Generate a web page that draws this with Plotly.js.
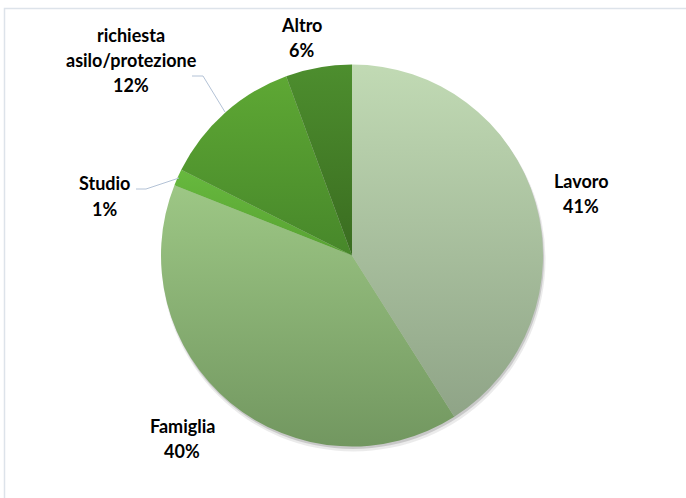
<!DOCTYPE html>
<html>
<head>
<meta charset="utf-8">
<script src="https://cdn.plot.ly/plotly-3.0.1.min.js"></script>
<style>
html,body{margin:0;padding:0;background:#fff;}
#chart{width:686px;height:498px;}
</style>
</head>
<body>
<div id="chart"></div>
<script>
// ---- data ----
const categories = ['Lavoro', 'Famiglia', 'Studio', 'richiesta asilo/protezione', 'Altro'];
const labelLines = [['Lavoro'], ['Famiglia'], ['Studio'], ['richiesta', 'asilo/protezione'], ['Altro']];
const values = [41.0, 40.0, 1.4, 12.0, 5.6];

// ---- styles ----
const colors = ['#abc5a0', '#88b072', '#5fb33a', '#519a2e', '#447f29'];
// per-slice vertical gradients (top, bottom)
const gradients = [
  ['#c1dab4', '#8fa487'],
  ['#9dc785', '#729760'],
  ['#67b93e', '#58a232'],
  ['#5ea834', '#47872a'],
  ['#4d8e2e', '#3a6c20']
];
const W = 686, H = 498;
const cx = 352, cy = 255.5, R = 191;
// label block centres (px)
const labelPos = [[581, 193], [182, 438], [104, 196], [131, 60], [301, 37.5]];
const lineGap = 25;

const px = x => x / W;
const py = y => 1 - y / H;

const total = values.reduce((a, b) => a + b, 0);
const pct = values.map(v => Math.round(v / total * 100) + '%');

function dom(dx, dy, dr) {
  return {
    x: [px(cx + dx - R - dr), px(cx + dx + R + dr)],
    y: [py(cy + dy + R + dr), py(cy + dy - R - dr)]
  };
}

const shadow1 = {
  type: 'pie', values: [1], labels: ['s'], domain: dom(1.5, 4, 1),
  marker: {colors: ['rgba(0,0,0,0.08)'], line: {width: 0}},
  textinfo: 'none', hoverinfo: 'skip', showlegend: false, sort: false
};
const shadow2 = {
  type: 'pie', values: [1], labels: ['s2'], domain: dom(1, 2.5, 0),
  marker: {colors: ['rgba(0,0,0,0.14)'], line: {width: 0}},
  textinfo: 'none', hoverinfo: 'skip', showlegend: false, sort: false
};
const pie = {
  type: 'pie',
  labels: categories,
  values: values,
  sort: false,
  direction: 'clockwise',
  rotation: 0,
  domain: dom(0, 0, 0),
  marker: {colors: colors, line: {width: 0}},
  textinfo: 'none',
  hoverinfo: 'label+percent',
  showlegend: false
};

const annotations = [];
categories.forEach((c, i) => {
  const lines = labelLines[i].concat([pct[i]]);
  const n = lines.length;
  lines.forEach((t, j) => {
    const y = labelPos[i][1] + (j - (n - 1) / 2) * lineGap;
    annotations.push({
      text: t, x: px(labelPos[i][0]), y: py(y), xref: 'paper', yref: 'paper',
      xanchor: 'center', yanchor: 'middle', showarrow: false,
      font: {family: 'Lato, sans-serif', size: 18, color: '#000', weight: 'bold'}
    });
  });
});

const lineColor = '#b3c2d6';
function path(pts) {
  return 'M ' + pts.map(p => px(p[0]) + ',' + py(p[1])).join(' L ');
}
const shapes = [
  {type: 'path', xref: 'paper', yref: 'paper', path: path([[192, 76], [203, 76], [225, 112]]), line: {color: lineColor, width: 1}},
  {type: 'path', xref: 'paper', yref: 'paper', path: path([[136, 189], [146, 189], [179, 178]]), line: {color: lineColor, width: 1}},
  // chart area border
  {type: 'path', xref: 'paper', yref: 'paper', path: path([[4.5, 500], [4.5, 8.5], [690, 8.5]]), line: {color: '#dde3ea', width: 1.5}}
];

const layout = {
  width: W, height: H,
  margin: {l: 0, r: 0, t: 0, b: 0},
  paper_bgcolor: '#ffffff',
  showlegend: false,
  annotations: annotations,
  shapes: shapes
};

Plotly.newPlot('chart', [shadow1, shadow2, pie], layout, {displayModeBar: false, staticPlot: true}).then(gd => {
  // apply Excel-like vertical gradient to each slice of the main pie
  const svg = gd.querySelector('svg.main-svg');
  const NS = 'http://www.w3.org/2000/svg';
  let defs = svg.querySelector('defs');
  if (!defs) { defs = document.createElementNS(NS, 'defs'); svg.insertBefore(defs, svg.firstChild); }
  gradients.forEach((g, i) => {
    const lg = document.createElementNS(NS, 'linearGradient');
    lg.setAttribute('id', 'sliceGrad' + i);
    lg.setAttribute('x1', '0'); lg.setAttribute('y1', '0');
    lg.setAttribute('x2', '0'); lg.setAttribute('y2', '1');
    [[0, g[0]], [1, g[1]]].forEach(([o, c]) => {
      const s = document.createElementNS(NS, 'stop');
      s.setAttribute('offset', o); s.setAttribute('stop-color', c);
      lg.appendChild(s);
    });
    defs.appendChild(lg);
  });
  const traces = gd.querySelectorAll('g.trace');
  const mainTrace = traces[traces.length - 1];
  mainTrace.querySelectorAll('g.slice').forEach((sl, i) => {
    const p = sl.querySelector('path.surface');
    if (p && gradients[i]) p.style.fill = 'url(#sliceGrad' + i + ')';
  });
});
</script>
</body>
</html>
